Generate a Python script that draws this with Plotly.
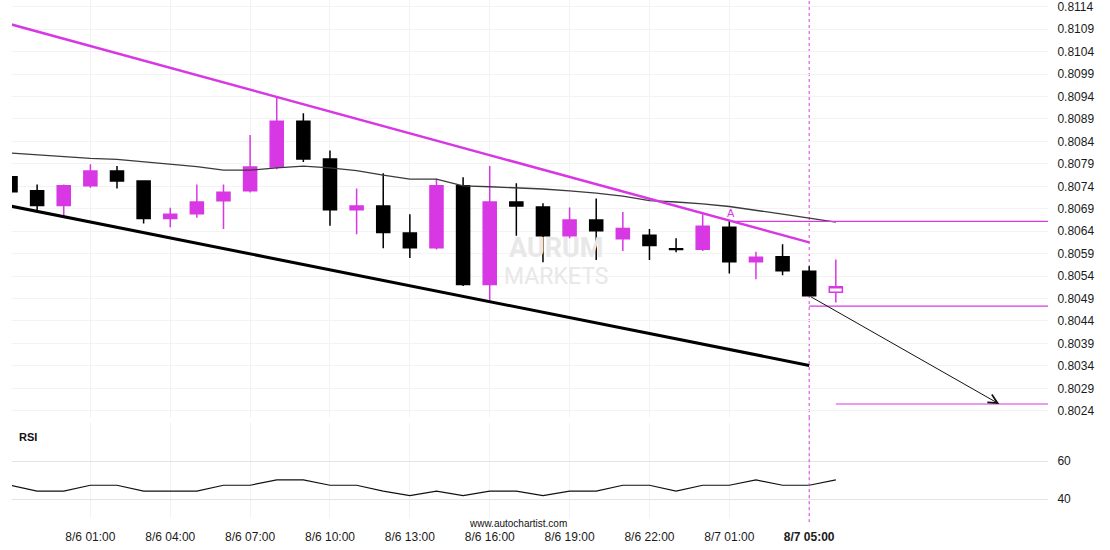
import plotly.graph_objects as go

# ── Candles (hourly, index 0 = first bar on screen) ─────────────────────────
opens = [0.80761, 0.80730, 0.80697, 0.80741, 0.80774, 0.80752, 0.80668, 0.80679,
         0.80708, 0.80730, 0.80783, 0.80885, 0.80801, 0.80688, 0.80696, 0.80636,
         0.80603, 0.80741, 0.80521, 0.80705, 0.80694, 0.80630, 0.80665, 0.80623,
         0.80631, 0.80601, 0.80600, 0.80649, 0.80572, 0.80583, 0.80551, 0.80504]
highs = [0.80761, 0.80744, 0.80744, 0.80789, 0.80785, 0.80752, 0.80692, 0.80744,
         0.80744, 0.80854, 0.80938, 0.80903, 0.80820, 0.80735, 0.80769, 0.80678,
         0.80757, 0.80760, 0.80785, 0.80747, 0.80702, 0.80693, 0.80713, 0.80683,
         0.80645, 0.80624, 0.80678, 0.80665, 0.80594, 0.80611, 0.80562, 0.80577]
lows = [0.80728, 0.80686, 0.80674, 0.80737, 0.80735, 0.80657, 0.80649, 0.80670,
        0.80645, 0.80726, 0.80778, 0.80794, 0.80652, 0.80633, 0.80602, 0.80580,
        0.80599, 0.80518, 0.80485, 0.80630, 0.80571, 0.80624, 0.80576, 0.80596,
        0.80576, 0.80593, 0.80596, 0.80546, 0.80533, 0.80542, 0.80496, 0.80481]
closes = [0.80728, 0.80697, 0.80741, 0.80774, 0.80752, 0.80668, 0.80678, 0.80705,
          0.80727, 0.80783, 0.80885, 0.80801, 0.80688, 0.80696, 0.80637, 0.80603,
          0.80741, 0.80521, 0.80705, 0.80696, 0.80630, 0.80665, 0.80641, 0.80646,
          0.80608, 0.80599, 0.80651, 0.80572, 0.80582, 0.80552, 0.80496, 0.80516]

moving_avg = [0.80814, 0.80810, 0.80805, 0.80802, 0.80800, 0.80795, 0.80790, 0.80784,
              0.80776, 0.80776, 0.80781, 0.80785, 0.80781, 0.80775, 0.80765, 0.80756,
              0.80756, 0.80741, 0.80739, 0.80737, 0.80734, 0.80730, 0.80725, 0.80718,
              0.80708, 0.80705, 0.80701, 0.80695, 0.80687, 0.80678, 0.80669, 0.80660]

rsi = [47.3, 44.2, 44.2, 47.3, 47.3, 44.2, 44.2, 44.2, 47.3, 47.3, 50.1, 50.1,
       47.3, 47.3, 44.2, 41.8, 44.2, 41.8, 44.2, 44.2, 41.8, 44.2, 44.2, 47.3,
       47.3, 44.2, 47.3, 47.3, 50.1, 47.3, 47.3, 50.1]

# ── Pattern (channel) and forecast ──────────────────────────────────────────
resistance_x = [0, 30]
resistance_y = [0.81101, 0.80615]
support_x = [0, 30]
support_y = [0.80696, 0.80341]
breakout_idx = 30
level_a = 0.80662          # horizontal line marked "A"
level_a_start = 27.07
entry_level = 0.80473
target_level = 0.80255
target_idx = 37.14
target_start = 31

tick_idx = [3, 6, 9, 12, 15, 18, 21, 24, 27, 30]
tick_text = ["8/6 01:00", "8/6 04:00", "8/6 07:00", "8/6 10:00", "8/6 13:00",
             "8/6 16:00", "8/6 19:00", "8/6 22:00", "8/7 01:00", "<b>8/7 05:00</b>"]

MAGENTA = "#D838E3"
FONT = "Liberation Sans, Arial, sans-serif"
X_END = 40
MAIN_DOMAIN = [0.193, 1]
RSI_DOMAIN = [0, 0.1828]

n = len(opens)
idx = list(range(n))

fig = go.Figure()

fig.add_trace(go.Scatter(
    x=idx, y=moving_avg, mode="lines",
    line=dict(color="#3a3a3a", width=1.3), hoverinfo="skip",
))

fig.add_trace(go.Candlestick(
    x=idx[:-1], open=opens[:-1], high=highs[:-1], low=lows[:-1], close=closes[:-1],
    increasing=dict(fillcolor=MAGENTA, line=dict(color=MAGENTA, width=1.5)),
    decreasing=dict(fillcolor="#000000", line=dict(color="#000000", width=1.5)),
    whiskerwidth=0,
))
# last (unfinished) candle drawn hollow
fig.add_trace(go.Candlestick(
    x=idx[-1:], open=opens[-1:], high=highs[-1:], low=lows[-1:], close=closes[-1:],
    increasing=dict(fillcolor="#ffffff", line=dict(color=MAGENTA, width=1.5)),
    decreasing=dict(fillcolor="#ffffff", line=dict(color=MAGENTA, width=1.5)),
    whiskerwidth=0,
))

fig.add_trace(go.Scatter(
    x=resistance_x, y=resistance_y, mode="lines",
    line=dict(color=MAGENTA, width=2.5), hoverinfo="skip",
))
fig.add_trace(go.Scatter(
    x=support_x, y=support_y, mode="lines",
    line=dict(color="#000000", width=3), hoverinfo="skip",
))

for x0, lvl in [(level_a_start, level_a), (breakout_idx, entry_level), (target_start, target_level)]:
    fig.add_trace(go.Scatter(
        x=[x0, X_END], y=[lvl, lvl], mode="lines",
        line=dict(color=MAGENTA, width=1.2), hoverinfo="skip",
    ))

# RSI panel
fig.add_trace(go.Scatter(
    x=idx, y=rsi, mode="lines", xaxis="x2", yaxis="y2",
    line=dict(color="#111111", width=1.2), hoverinfo="skip",
))

# forecast arrow
fig.add_annotation(
    x=target_idx, y=target_level, ax=breakout_idx, ay=closes[breakout_idx],
    xref="x", yref="y", axref="x", ayref="y",
    showarrow=True, arrowhead=5, arrowsize=1.8, arrowwidth=1, arrowcolor="#111111",
    text="",
)

# breakout time marker: behind the candles in the price panel, on top below it
dash_line = dict(color=MAGENTA, width=1, dash="dot")
fig.add_shape(type="line", xref="x", yref="paper", x0=breakout_idx, x1=breakout_idx,
              y0=MAIN_DOMAIN[0], y1=1, layer="below", line=dash_line)
fig.add_shape(type="line", xref="x", yref="paper", x0=breakout_idx, x1=breakout_idx,
              y0=-0.008, y1=MAIN_DOMAIN[0], layer="above", line=dash_line)

fig.add_annotation(
    x=level_a_start, y=level_a, xref="x", yref="y", text="A", showarrow=False,
    yanchor="bottom", yshift=0, font=dict(family=FONT, size=11, color=MAGENTA),
)

# watermark
fig.add_annotation(
    x=20.5, y=0.80574, xref="x", yref="y", text="<b>AURUM</b>", showarrow=False,
    yanchor="bottom", borderpad=0, yshift=-4,
    font=dict(family="Roboto", size=27, color="#e8e8e8"),
)
fig.add_annotation(
    x=20.5, y=0.80574, xref="x", yref="y", text="MARKETS", showarrow=False,
    yanchor="top", borderpad=0, yshift=-1,
    font=dict(family="Roboto", size=23, color="#e8e8e8"),
)

fig.add_annotation(
    x=0.0154, y=0.156, xref="paper", yref="paper", text="<b>RSI</b>", showarrow=False,
    xanchor="center", yanchor="middle", font=dict(family=FONT, size=11, color="#111111"),
)
fig.add_annotation(
    x=0.488, y=-0.01, xref="paper", yref="paper", text="www.autochartist.com",
    showarrow=False, xanchor="center", yanchor="middle",
    font=dict(family=FONT, size=10, color="#111111"),
)

fig.update_layout(
    width=1110, height=550,
    margin=dict(l=12, r=62, t=0, b=32),
    paper_bgcolor="#ffffff", plot_bgcolor="rgba(0,0,0,0)",
    showlegend=False,
    font=dict(family=FONT, size=12, color="#1a1a1a"),
    xaxis=dict(
        domain=[0, 1], anchor="y", range=[0.056, 38.97],
        rangeslider=dict(visible=False),
        # no grid line at the breakout bar, the dashed marker sits there
        tickvals=tick_idx[:-1], showticklabels=False, ticks="",
        showgrid=True, gridcolor="#f2f2f2", zeroline=False, showline=False,
    ),
    yaxis=dict(
        domain=MAIN_DOMAIN, anchor="x", side="right", range=[0.802238, 0.81155],
        tick0=0.8024, dtick=0.0005, tickformat=".4f", ticklabeloverflow="allow",
        ticks="outside", ticklen=6, tickcolor="rgba(0,0,0,0)",
        showgrid=True, gridcolor="#f3f3f3", zeroline=False, showline=False,
    ),
    xaxis2=dict(
        domain=[0, 1], anchor="y2", matches="x",
        tickvals=tick_idx, ticktext=tick_text,
        ticks="outside", ticklen=8, tickcolor="rgba(0,0,0,0)",
        showgrid=True, gridcolor="#f2f2f2", zeroline=False, showline=False,
    ),
    yaxis2=dict(
        domain=RSI_DOMAIN, anchor="x2", side="right", range=[30, 80],
        tickvals=[40, 60], ticks="outside", ticklen=6, tickcolor="rgba(0,0,0,0)",
        showgrid=True, gridcolor="#e4e4e4", zeroline=False, showline=False,
    ),
)

# the page's default body margin would shift the fixed-size figure
fig.write_html("out.html", config={"displayModeBar": False},
               post_script="document.body.style.margin='0';")
